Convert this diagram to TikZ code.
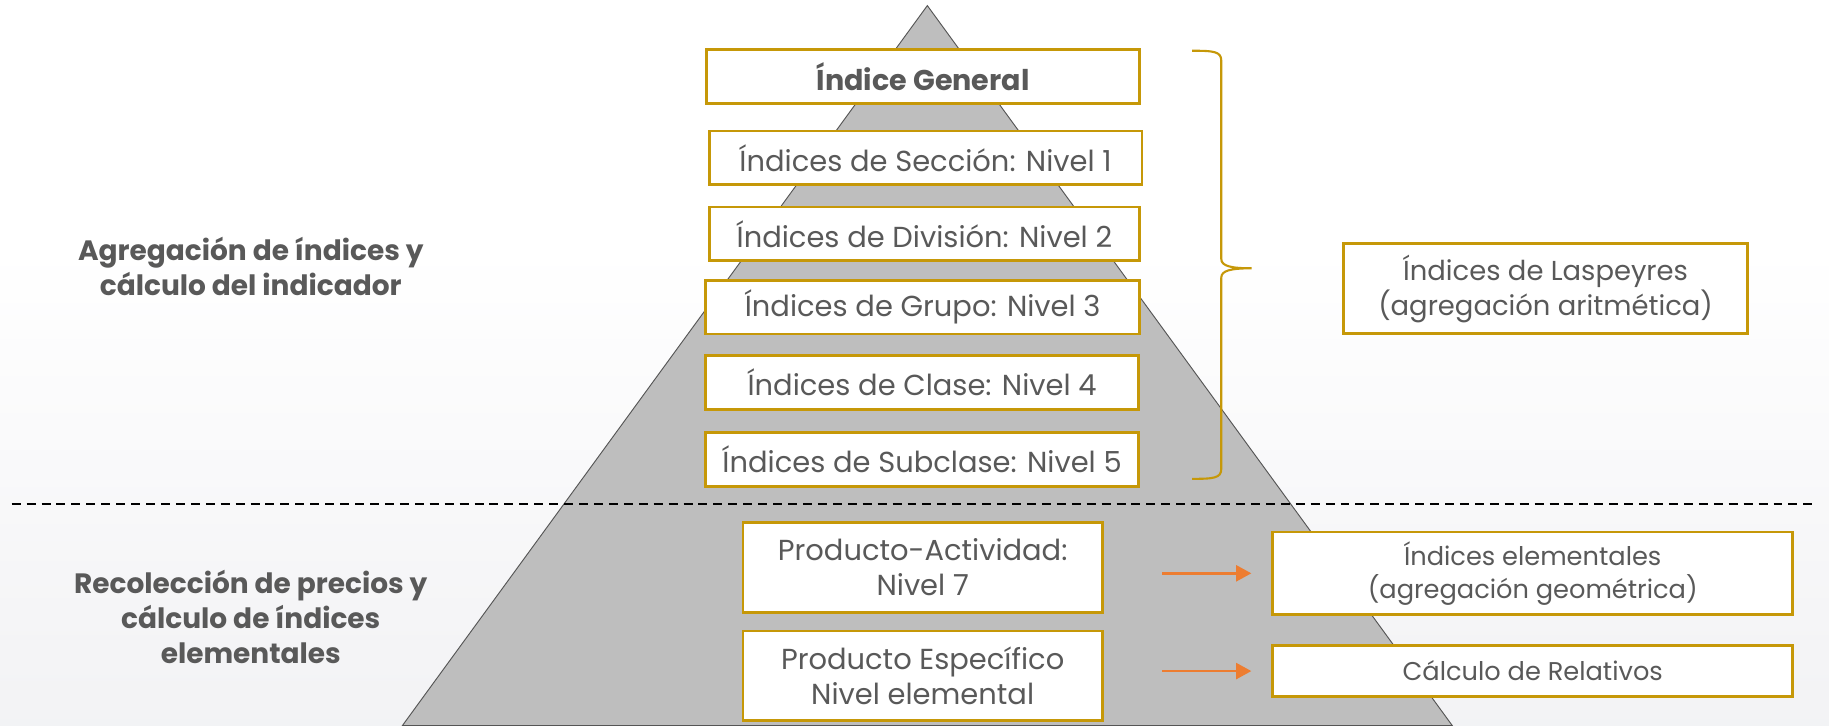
\documentclass[tikz,border=0pt]{standalone}
\usepackage{fontspec}
\setmainfont{Poppins}
\usetikzlibrary{arrows.meta}
\definecolor{gold}{RGB}{198,152,8}
\definecolor{txt}{RGB}{89,89,89}
\definecolor{pyr}{RGB}{190,190,190}
\definecolor{pyredge}{RGB}{85,85,85}
\definecolor{arr}{RGB}{237,125,49}
\definecolor{bgB}{RGB}{234,235,238}
\definecolor{bgM}{RGB}{244,244,246}
\pgfdeclareverticalshading{bgshade}{100bp}{color(0bp)=(bgB); color(30bp)=(bgM); color(58bp)=(white); color(100bp)=(white)}
\begin{document}
\begin{tikzpicture}[x=1pt,y=-1pt,
  lvlbox/.style={draw=gold, line width=2.4pt, fill=white, text=txt, align=center, inner sep=0pt,
     font=\fontsize{24.8}{30}\selectfont},
  sidebox/.style={lvlbox, font=\fontsize{22}{28}\selectfont},
  sidetext/.style={text=txt, align=center, font=\fontsize{24}{30}\selectfont\bfseries},
  flowarrow/.style={draw=arr, line width=2.4pt, -{Triangle[length=13pt,width=13.5pt]}},
  bracestyle/.style={draw=gold, line width=1.8pt},
  divider/.style={draw=black, line width=1.7pt, dash pattern=on 7.7pt off 5.1pt}]
\useasboundingbox (0,0) rectangle (1568,622);
\shade[shading=bgshade] (0,0) rectangle (1568,622);
% pyramid
\filldraw[fill=pyr, draw=pyredge, line width=0.8pt] (795,4.8) -- (1245,622) -- (345,622) -- cycle;
% divider
\coordinate (dL) at (10,432);
\coordinate (dR) at (1556,432);
\draw[divider] (dL) -- (dR);
% level boxes
\node[lvlbox, minimum width=371pt, minimum height=46pt, font=\fontsize{24.5}{30}\selectfont\bfseries] (gen) at (791.5,65.7) {Índice General};
\node[lvlbox, minimum width=371pt, minimum height=46pt] (sec) at (793.5,135.3) {Índices de Sección: Nivel 1};
\node[lvlbox, minimum width=369pt, minimum height=46pt] (div) at (792.5,200.5) {Índices de División: Nivel 2};
\node[lvlbox, minimum width=372pt, minimum height=46pt] (gru) at (791,263.3) {Índices de Grupo: Nivel 3};
\node[lvlbox, minimum width=371pt, minimum height=46pt] (cla) at (790.5,328) {Índices de Clase: Nivel 4};
\node[lvlbox, minimum width=371pt, minimum height=46pt] (sub) at (790.5,394) {Índices de Subclase: Nivel 5};
\node[lvlbox, minimum width=308pt, minimum height=77pt] (pa) at (791,486.5) {Producto-Actividad:\\Nivel 7};
\node[lvlbox, minimum width=308pt, minimum height=77pt] (pe) at (791,579.5) {Producto Específico\\Nivel elemental};
% right boxes
\node[lvlbox, minimum width=346pt, minimum height=77pt, font=\fontsize{23.5}{30}\selectfont] (lasp) at (1325,247.5) {Índices de Laspeyres\\(agregación aritmética)};
\node[sidebox, minimum width=446pt, minimum height=71pt] (elem) at (1314,491.5) {Índices elementales\\(agregación geométrica)};
\node[sidebox, minimum width=446pt, minimum height=43.5pt] (calc) at (1314,575.3) {Cálculo de Relativos};
% left texts
\node[sidetext] (agg) at (215,228) {Agregación de índices y\\cálculo del indicador};
\node[sidetext] (rec) at (215,529) {Recolección de precios y\\cálculo de índices\\elementales};
% arrows
\draw[flowarrow, shorten <=50pt, shorten >=17pt] (pa.east |- elem.west) -- (elem.west);
\draw[flowarrow, shorten <=50pt, shorten >=17pt] (pe.east |- calc.west) -- (calc.west);
% brace
\coordinate (bt) at (1022,43.5);
\coordinate (bm) at (1073,230);
\coordinate (bb) at (1022,410.5);
\draw[bracestyle] (bt) .. controls (1040,43.5) and (1047,44) .. (1047,52) -- (1047,222)
  .. controls (1047,228) and (1055,230) .. (bm)
  .. controls (1055,230) and (1047,232) .. (1047,238) -- (1047,402)
  .. controls (1047,410) and (1040,410.5) .. (bb);
\end{tikzpicture}
\end{document}
